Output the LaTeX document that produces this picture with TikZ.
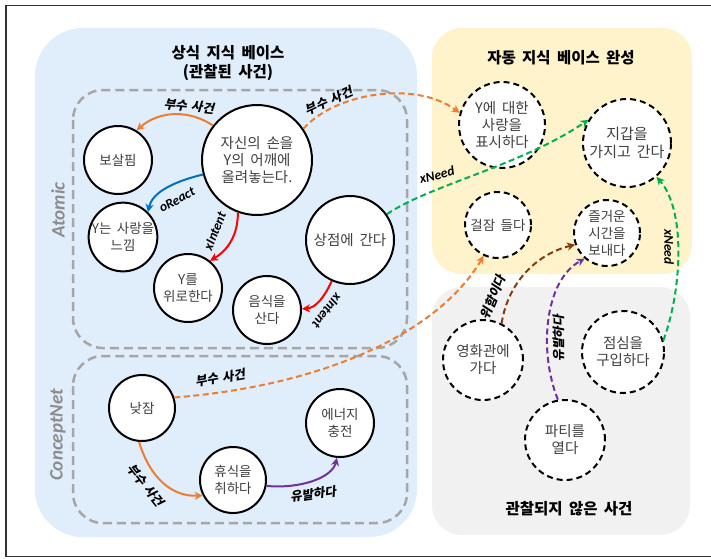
\documentclass[tikz,border=0pt]{standalone}
\usepackage{fontspec}
\setmainfont{Noto Sans CJK KR}[WordSpace=1.8]
\newfontfamily\labkr{Noto Sans CJK KR}[FakeSlant=0.2,WordSpace=1.5]
\newfontfamily\labla{Carlito}
\usetikzlibrary{arrows.meta}
\definecolor{bgblue}{RGB}{224,237,250}
\definecolor{bgyellow}{RGB}{255,243,204}
\definecolor{bggray}{RGB}{241,241,241}
\definecolor{boxgray}{RGB}{166,166,166}
\definecolor{txtgray}{RGB}{64,64,64}
\definecolor{eorange}{RGB}{237,125,49}
\definecolor{eblue}{RGB}{0,112,192}
\definecolor{ered}{RGB}{255,0,0}
\definecolor{egreen}{RGB}{0,176,80}
\definecolor{epurple}{RGB}{112,48,160}
\definecolor{ebrown}{RGB}{132,60,12}
\definecolor{sidegray}{RGB}{140,140,140}
\tikzset{
  ev/.style={circle, draw=black, line width=2pt, fill=white, text=txtgray, align=center, inner sep=0pt, font=\fontsize{13.5}{17}\selectfont},
  evbig/.style={font=\fontsize{14.5}{17}\selectfont},
  evd/.style={ev, dash pattern=on 6pt off 4pt},
  conn/.style={line width=2pt, -{Stealth[length=8pt,width=8pt,inset=2.5pt]}},
  dconn/.style={conn, dash pattern=on 6pt off 3.5pt},
  labk/.style={font=\labkr\bfseries\fontsize{12.5}{14}\selectfont, text=black, inner sep=1pt},
  labl/.style={font=\labla\bfseries\itshape\fontsize{13.5}{15}\selectfont, text=black, inner sep=1pt},
  side/.style={font=\labla\bfseries\itshape\fontsize{19}{22}\selectfont, text=sidegray, rotate=90},
  ttl/.style={font=\bfseries\fontsize{15.5}{19}\selectfont, text=black, align=center},
  grp/.style={draw=boxgray, line width=2.5pt, dash pattern=on 9pt off 5pt}
}
\begin{document}
\begin{tikzpicture}[x=1pt,y=-1pt]
\useasboundingbox (0,0) rectangle (711,558);
\fill[white] (0,0) rectangle (711,558);
% frame
\draw[line width=1.2pt, draw=black!80] (711,5.5) -- (6,5.5) -- (6,556.5) -- (711,556.5);
% background regions
\fill[bgblue, rounded corners=48pt] (35,28) rectangle (417,537);
\fill[bgyellow, rounded corners=30pt] (432,28) rectangle (692,274);
\fill[bggray, rounded corners=30pt] (432,287) rectangle (690,535);
% dashed group boxes
\draw[grp, rounded corners=30pt] (73,90) rectangle (407,348);
\draw[grp, rounded corners=30pt] (73,356) rectangle (407,523);
\node[side] (atomic) at (58,210) {Atomic};
\node[side] (cnet) at (58,435) {ConceptNet};
% titles
\node[ttl] (t1) at (228,63) {상식 지식 베이스\\(관찰된 사건)};
\node[ttl] (t2) at (561,58) {자동 지식 베이스 완성};
\node[ttl] (t3) at (569,509) {관찰되지 않은 사건};
% solid nodes
\node[ev, evbig, minimum size=110pt] (main) at (257,160) {자신의 손을\\Y의 어깨에\\올려놓는다.};
\node[ev, minimum size=68pt] (bosal) at (118,160) {보살핌};
\node[ev, minimum size=64pt] (ylove) at (123,237) {Y는 사랑을\\느낌};
\node[ev, minimum size=68pt] (wiro) at (188,288) {Y를\\위로한다};
\node[ev, minimum size=68pt] (food) at (267,310) {음식을\\산다};
\node[ev, evbig, minimum size=88pt] (store) at (350,240) {상점에 간다};
\node[ev, minimum size=66pt] (nap) at (142,408) {낮잠};
\node[ev, minimum size=66pt] (rest) at (233,480) {휴식을\\취하다};
\node[ev, minimum size=68pt] (energy) at (340,423) {에너지\\충전};
% dashed nodes
\node[evd, evbig, minimum size=86pt] (show) at (502,125) {Y에 대한\\사랑을\\표시하다};
\node[evd, minimum size=88pt, font=\fontsize{15}{18}\selectfont] (wallet) at (627,143) {지갑을\\가지고 간다};
\node[evd, minimum size=66pt] (sleep) at (498,225) {걸잠 들다};
\node[evd, minimum size=66pt] (fun) at (607,233) {즐거운\\시간을\\보내다};
\node[evd, evbig, minimum size=80pt] (movie) at (483,360) {영화관에\\가다};
\node[evd, evbig, minimum size=82pt] (lunch) at (623,352) {점심을\\구입하다};
\node[evd, evbig, minimum size=80pt] (party) at (565,440) {파티를\\열다};
% connectors
\draw[conn, eorange] (main.142) .. controls (190,110) and (160,110) .. (bosal.58);
\node[labk, rotate=-6] (l1) at (189,106) {부수 사건};
\draw[conn, eblue] (main.195) .. controls (172,182) and (152,193) .. (ylove.45);
\node[labl, rotate=28] (l2) at (177,200) {oReact};
\draw[conn, ered] (main.250) .. controls (238,235) and (228,250) .. (wiro.51);
\node[labl, rotate=68] (l3) at (215,231) {xIntent};
\draw[conn, ered] (store.246) .. controls (325,296) and (316,308) .. (food.2);
\node[labl, rotate=232] (l4) at (327,311) {xIntent};
\draw[dconn, eorange] (main.34) .. controls (335,93) and (415,80) .. (show.164);
\node[labk, rotate=24] (l5) at (329,101) {부수 사건};
\draw[dconn, egreen] (store.35) .. controls (430,185) and (520,166) .. (wallet.149);
\node[labl, rotate=14] (l6) at (437,175) {xNeed};
\draw[dconn, eorange] (nap.18) .. controls (330,385) and (440,330) .. (sleep.245);
\node[labk, rotate=10] (l7) at (220,378) {부수 사건};
\draw[conn, eorange] (nap.265) .. controls (150,478) and (172,497) .. (rest.207);
\node[labk, rotate=-52] (l8) at (146,485) {부수 사건};
\draw[conn, epurple] (rest.350) .. controls (300,489) and (332,478) .. (energy.265);
\node[labk, rotate=8] (l9) at (313,494) {유발하다};
\draw[dconn, ebrown] (movie.63) .. controls (508,282) and (537,254) .. (fun.200);
\node[labk, rotate=68] (l10) at (493,297) {위함이다};
\draw[dconn, epurple] (party.100) .. controls (538,350) and (545,280) .. (fun.229);
\node[labk, rotate=90] (l11) at (559,338) {유발하다};
\draw[dconn, egreen] (lunch.16) .. controls (682,290) and (686,210) .. (wallet.311);
\node[labl, rotate=-90] (l12) at (669,247) {xNeed};
\end{tikzpicture}
\end{document}
